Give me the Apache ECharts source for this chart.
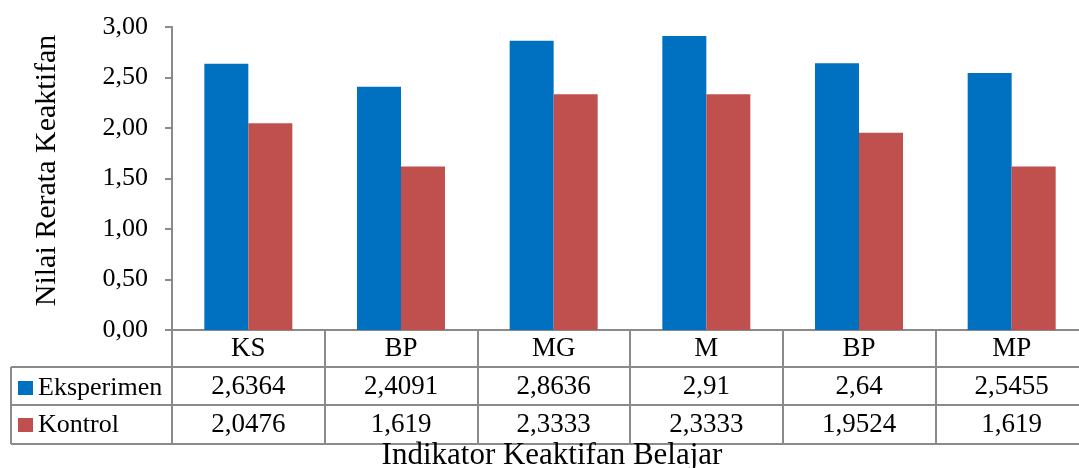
<!DOCTYPE html>
<html>
<head>
<meta charset="utf-8">
<script src="https://cdn.jsdelivr.net/npm/echarts@6/dist/echarts.min.js"></script>
<style>
  html, body { margin: 0; padding: 0; background: #fff; }
  #chart { width: 1079px; height: 468px; }
</style>
</head>
<body>
<div id="chart"></div>
<script>
// data
var categories = ['KS', 'BP', 'MG', 'M', 'BP', 'MP']
var eksperimen = [2.6364, 2.4091, 2.8636, 2.91, 2.64, 2.5455]
var kontrol = [2.0476, 1.619, 2.3333, 2.3333, 1.9524, 1.619]
var yTicks = [0, 0.5, 1, 1.5, 2, 2.5, 3]

var FONT = 'Liberation Serif'
var GRID = '#8a8a8a'

function comma(v) {
  return String(v).replace('.', ',')
}

// table rows sit below the plot: header 330-367, rows 367-405, 405-444
var rowLines = [367, 405, 444]

var chart = echarts.init(document.getElementById('chart'))

var graphics = rowLines.map(function (y) {
  return {
    type: 'line',
    shape: { x1: 11, y1: y, x2: 1079, y2: y },
    style: { stroke: GRID, lineWidth: 2 }
  }
})
graphics.push({
  type: 'line',
  shape: { x1: 11, y1: 367, x2: 11, y2: 444 },
  style: { stroke: GRID, lineWidth: 2 }
})
graphics.push({
  type: 'text',
  x: 552,
  y: 440,
  style: {
    text: 'Indikator Keaktifan Belajar',
    font: '31px ' + FONT,
    fill: '#000',
    align: 'center',
    verticalAlign: 'top'
  }
})

function rowAxis(values, offset) {
  return {
    type: 'category',
    gridIndex: 0,
    position: 'bottom',
    offset: offset,
    data: categories,
    axisLine: { show: false },
    axisTick: { show: false },
    axisLabel: {
      interval: 0,
      margin: 5,
      color: '#000',
      fontFamily: FONT,
      fontSize: 27,
      formatter: function (v, i) { return comma(values[i]) }
    }
  }
}

var option = {
  backgroundColor: '#fff',
  animation: false,
  textStyle: { fontFamily: FONT },
  grid: { left: 172, width: 916, top: 27, height: 303, outerBoundsMode: 'none', containLabel: false },
  legend: {
    orient: 'vertical',
    left: 13,
    top: 370,
    itemWidth: 15,
    itemHeight: 14,
    itemGap: 11,
    icon: 'rect',
    textStyle: { color: '#000', fontFamily: FONT, fontSize: 26 },
    data: ['Eksperimen', 'Kontrol']
  },
  xAxis: [
    {
      type: 'category',
      data: categories,
      axisLine: { lineStyle: { color: GRID, width: 2 } },
      axisTick: { show: true, length: 114, interval: 0, lineStyle: { color: GRID, width: 2 } },
      axisLabel: {
        interval: 0,
        margin: 5,
        color: '#000',
        fontFamily: FONT,
        fontSize: 27
      }
    },
    rowAxis(eksperimen, 38),
    rowAxis(kontrol, 76)
  ],
  yAxis: {
    type: 'value',
    min: yTicks[0],
    max: yTicks[yTicks.length - 1],
    interval: 0.5,
    name: 'Nilai Rerata Keaktifan',
    nameLocation: 'middle',
    nameGap: 110,
    nameTextStyle: { color: '#000', fontFamily: FONT, fontSize: 30, padding: [0, 0, 0, 16] },
    axisLine: { show: true, lineStyle: { color: GRID, width: 2 } },
    axisTick: { show: true, length: 7, lineStyle: { color: GRID, width: 2 } },
    splitLine: { show: false },
    axisLabel: {
      margin: 24,
      color: '#000',
      fontFamily: FONT,
      fontSize: 26,
      formatter: function (v) { return v.toFixed(2).replace('.', ',') }
    }
  },
  series: [
    {
      name: 'Eksperimen',
      type: 'bar',
      barWidth: 44,
      barGap: 0,
      itemStyle: { color: '#0070C0' },
      data: eksperimen
    },
    {
      name: 'Kontrol',
      type: 'bar',
      barWidth: 44,
      barGap: 0,
      itemStyle: { color: '#C0504D' },
      data: kontrol
    }
  ],
  graphic: graphics
}

chart.setOption(option)
</script>
</body>
</html>
